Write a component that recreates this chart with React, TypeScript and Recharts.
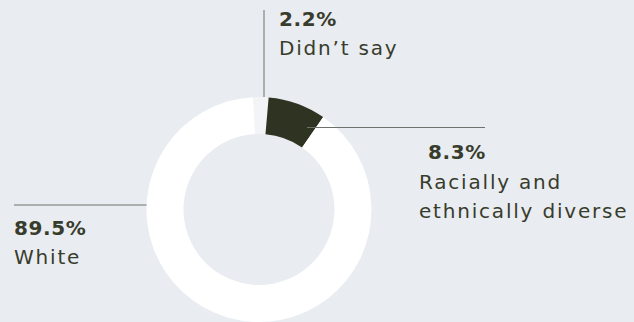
import { PieChart, Pie, Cell } from 'recharts'

const categories = ["Didn\u2019t say", 'Racially and ethnically diverse', 'White']
const shares = [2.2, 8.3, 89.5]
const sliceColors = ['#f3f4f7', '#2f3321', '#ffffff']

const BG = '#e9ecf1'
const INK = '#383c2c'
const RULE = '#6e726a'
const FONT = '"DejaVu Sans", sans-serif'

const data = categories.map((name, i) => ({ name, value: shares[i] }))

const pctStyle = { fontFamily: FONT, fontSize: 20, fill: INK, letterSpacing: 0.6, fontWeight: 700 }
const nameStyle = { fontFamily: FONT, fontSize: 20, fill: INK, letterSpacing: 1.8 }

// each label is placed relative to the pie centre, with its own leader rule
const renderLabel = ({ cx, cy, outerRadius, index }: any) => {
  const pct = `${shares[index].toFixed(1)}%`
  if (index === 0) {
    const x = cx + 5
    return (
      <g>
        <line x1={x} y1={10} x2={x} y2={cy - outerRadius} stroke={RULE} strokeWidth={1} />
        <text x={x + 15} y={26} {...pctStyle}>{pct}</text>
        <text x={x + 15} y={55} {...nameStyle}>{categories[0]}</text>
      </g>
    )
  }
  if (index === 1) {
    const y = cy - 82
    return (
      <g>
        <line x1={cx + 48} y1={y} x2={cx + 226} y2={y} stroke={RULE} strokeWidth={1} />
        <text x={cx + 169} y={y + 31} {...pctStyle}>{pct}</text>
        <text x={cx + 160} y={y + 61} {...nameStyle}>Racially and</text>
        <text x={cx + 160} y={y + 90} {...nameStyle}>ethnically diverse</text>
      </g>
    )
  }
  const y = cy - 4.5
  return (
    <g>
      <line x1={14} y1={y} x2={cx - outerRadius} y2={y} stroke={RULE} strokeWidth={1} />
      <text x={14} y={y + 30} {...pctStyle}>{pct}</text>
      <text x={14} y={y + 59} {...nameStyle}>{categories[2]}</text>
    </g>
  )
}

export default function App() {
  return (
    <div style={{ position: 'fixed', left: 0, top: 0, width: 634, height: 322, background: BG }}>
      <PieChart width={634} height={322} margin={{ top: 0, right: 0, bottom: 0, left: 0 }}>
        <Pie
          data={data}
          dataKey="value"
          nameKey="name"
          cx={259}
          cy={209.5}
          innerRadius={75.5}
          outerRadius={112.5}
          startAngle={93}
          endAngle={-267}
          stroke="none"
          label={renderLabel}
          labelLine={false}
          isAnimationActive={false}
        >
          {data.map((d, i) => (
            <Cell key={d.name} fill={sliceColors[i]} stroke="none" />
          ))}
        </Pie>
      </PieChart>
    </div>
  )
}
